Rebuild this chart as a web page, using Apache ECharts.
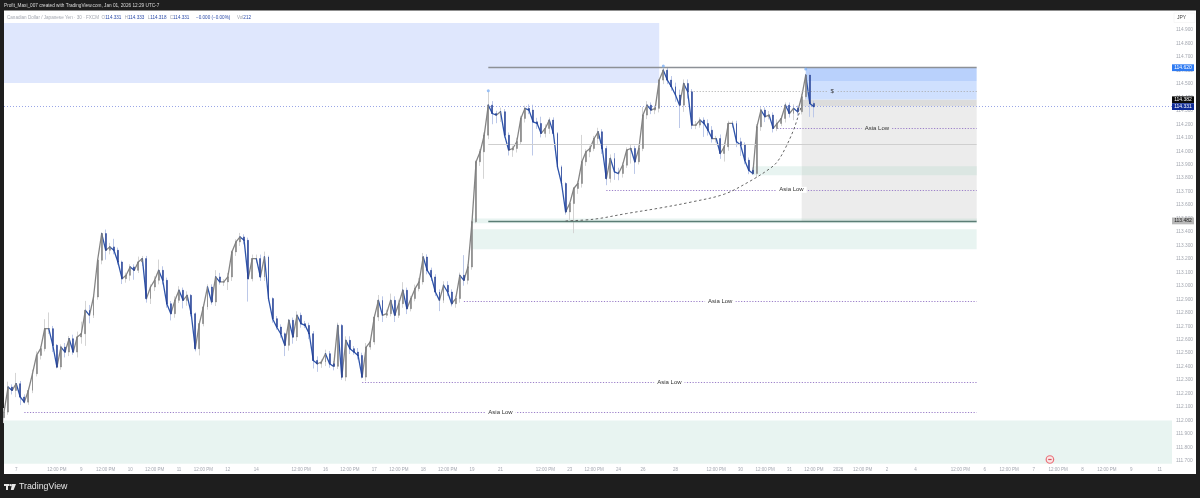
<!DOCTYPE html>
<html>
<head>
<meta charset="utf-8">
<title>CAD/JPY</title>
<style>
html, body { margin:0; padding:0; background:#1e1e1e; }
#chart { width:1200px; height:498px; }
</style>
<script src="https://cdn.jsdelivr.net/npm/echarts@6/dist/echarts.min.js"></script>
</head>
<body>
<div id="chart"></div>
<script>
// 2 hour closes, the last one is the live price
var closes = [
112.062,112.248,112.223,112.273,112.174,112.136,112.223,112.347,112.483,112.533,
112.682,112.682,112.558,112.397,112.545,112.508,112.607,112.508,112.620,112.644,
112.818,112.781,112.917,113.190,113.388,113.264,113.289,113.264,113.177,113.053,
113.078,113.140,113.115,113.177,113.202,112.905,112.991,113.041,113.115,113.041,
112.867,112.793,112.892,112.967,112.892,112.929,112.793,112.533,112.719,112.843,
112.991,112.880,113.066,113.029,113.029,113.066,113.252,113.326,113.363,113.338,
113.053,113.202,113.202,113.066,113.214,112.905,112.756,112.694,112.644,112.558,
112.744,112.620,112.781,112.719,112.706,112.644,112.446,112.421,112.434,112.496,
112.421,112.402,112.706,112.322,112.595,112.533,112.508,112.483,112.322,112.545,
112.583,112.768,112.892,112.781,112.793,112.892,112.781,112.867,112.967,112.830,
112.905,112.979,113.029,113.214,113.115,113.066,112.954,112.892,113.004,112.954,
112.867,112.905,113.078,113.041,113.140,113.475,113.921,113.995,114.119,114.342,
114.280,114.268,114.293,114.119,114.008,114.020,114.070,114.243,114.318,114.305,
114.218,114.206,114.132,114.169,114.231,114.132,113.884,113.760,113.549,113.611,
113.723,113.760,113.921,113.995,114.020,114.094,114.144,114.020,113.797,113.946,
113.847,113.834,113.896,114.008,114.020,113.921,114.020,114.268,114.342,114.305,
114.318,114.528,114.602,114.528,114.479,114.417,114.342,114.503,114.441,114.194,
114.194,114.231,114.206,114.156,114.094,114.094,113.983,114.033,114.206,114.206,
114.070,114.045,113.933,113.859,113.834,114.181,114.305,114.256,114.268,114.169,
114.206,114.243,114.342,114.280,114.318,114.293,114.404,114.565,114.355,114.331
];
var firstOpen = 112.02;
// wick lengths above and below each body
var upperWicks = [
.03,.04,.02,.08,.02,.02,.02,.03,.03,.02, .07,.12,.02,.01,.02,.03,.02,.03,.04,.09,
.07,.04,.02,.01,.01,.03,.03,.06,.02,.01, .02,.02,.02,.04,.02,.02,.02,.03,.08,.03,
.02,.02,.03,.03,.02,.03,.01,.01,.02,.02, .02,.02,.05,.03,.02,.03,.01,.02,.03,.02,
.02,.03,.03,.03,.04,.01,.01,.02,.02,.01, .01,.02,.03,.02,.02,.02,.02,.03,.02,.03,
.02,.02,.02,.01,.03,.03,.02,.03,.02,.03, .02,.02,.04,.03,.03,.05,.03,.03,.06,.02,
.02,.03,.03,.03,.02,.02,.02,.02,.03,.03, .02,.02,.02,.15,.02,.01,.01,.02,.02,.10,
.03,.02,.03,.02,.02,.02,.03,.02,.02,.03, .04,.03,.05,.03,.02,.02,.01,.01,.01,.01,
.01,.02,.20,.02,.02,.02,.03,.02,.02,.03, .04,.03,.02,.02,.03,.02,.02,.06,.03,.02,
.02,.01,.02,.02,.03,.03,.04,.03,.03,.02, .03,.02,.02,.03,.03,.02,.03,.03,.02,.02,
.02,.03,.02,.02,.02,.02,.03,.02,.03,.02, .03,.02,.02,.02,.03,.02,.02,.01,.02,.02
];
var lowerWicks = [
.04,.02,.03,.05,.06,.01,.02,.02,.02,.03, .02,.04,.05,.01,.02,.04,.03,.02,.04,.05,
.09,.06,.02,.02,.03,.07,.03,.03,.02,.04, .03,.04,.07,.02,.03,.03,.04,.03,.03,.03,
.03,.05,.03,.02,.06,.04,.02,.02,.05,.02, .02,.02,.03,.02,.03,.06,.03,.03,.03,.03,
.17,.02,.03,.03,.03,.02,.03,.02,.03,.08, .04,.05,.03,.03,.02,.04,.06,.06,.03,.03,
.03,.03,.02,.02,.03,.04,.02,.03,.01,.03, .02,.02,.03,.05,.02,.02,.05,.02,.03,.04,
.02,.02,.02,.02,.03,.03,.03,.08,.02,.03, .02,.03,.03,.04,.03,.02,.01,.03,.20,.03,
.08,.06,.05,.02,.04,.05,.03,.02,.03,.03, .25,.04,.03,.03,.04,.02,.02,.02,.02,.06,
.22,.04,.03,.03,.04,.02,.04,.04,.05,.03, .06,.05,.03,.02,.10,.09,.02,.02,.03,.03,
.03,.03,.03,.03,.03,.05,.17,.05,.05,.03, .03,.02,.10,.04,.03,.03,.04,.06,.03,.03,
.04,.08,.03,.03,.01,.03,.03,.04,.02,.03, .02,.02,.03,.03,.05,.03,.02,.02,.10,.08
];

var slotCount = 288;
var timeSlots = [3,13,19,25,31,37,43,49,55,62,73,79,85,91,97,103,109,115,122,133,139,145,151,157,165,175,181,187,193,199,205,211,217,224,235,241,247,253,259,265,271,277,284];
var timeLabels = ['7','12:00 PM','9','12:00 PM','10','12:00 PM','11','12:00 PM','12','14','12:00 PM','16','12:00 PM','17','12:00 PM','18','12:00 PM','19','21','12:00 PM','23','12:00 PM','24','26','28','12:00 PM','30','12:00 PM','31','12:00 PM','2026','12:00 PM','2','4','12:00 PM','6','12:00 PM','7','12:00 PM','8','12:00 PM','9','11'];
var priceTicks = [111.7,111.8,111.9,112,112.1,112.2,112.3,112.4,112.5,112.6,112.7,112.8,112.9,113,113.1,113.2,113.3,113.4,113.5,113.6,113.7,113.8,113.9,114,114.1,114.2,114.3,114.4,114.5,114.6,114.7,114.8,114.9];

// [from slot, to slot, top price, bottom price, colour]
var zones = [
[0,161,114.952,114.506,'#dfe7fd'],
[0,287,112.0,111.678,'#e8f4f1'],
[115,239,113.42,113.272,'#e8f4f1'],
[115,239,113.5,113.465,'#e8f4f1'],
[197,239,114.62,114.521,'#b9d1fc'],
[197,239,114.521,114.382,'#cfe0fe'],
[196,239,114.382,114.331,'#dcdcdc'],
[196,239,114.331,113.482,'#ececec'],
[184,196,113.889,113.822,'#e8f4f1'],
[196,239,113.889,113.822,'#dbe6e2'],
[196,239,113.5,113.482,'#dbe6e2']
];
// [from slot, price, label background]
var asiaLows = [
[190,114.169,'#ececec'],
[148,113.713,'#ffffff'],
[113,112.885,'#ffffff'],
[88,112.283,'#ffffff'],
[5,112.060,'#ffffff']
];
var curveSlots = [138,145,153,161,169,177,183,188,190,192,194,195,196];
var curvePrices = [113.482,113.495,113.537,113.577,113.623,113.681,113.772,113.867,113.921,114.023,114.157,114.246,114.342];
var pivotSlots = [119,162,197];
var pivotPrices = [114.449,114.632,114.61];
var tagPrices = [114.620,114.382,114.331,113.482];
var tagFills = ['#2f7bf2','#0b0b0b','#0e2a96','#b8b8b8'];
var tagInks = ['#ffffff','#ffffff','#ffffff','#222222'];

var categories = [];
for (var i=0; i<slotCount; i++) categories.push(String(i));

var wickData = [], bodyData = [], pathData = [];
for (var i=0; i<closes.length; i++) {
	var openVal = i==0 ? firstOpen : closes[i-1];
	var closeVal = closes[i];
	var bodyTop = Math.max(openVal,closeVal), bodyBottom = Math.min(openVal,closeVal);
	wickData.push([openVal, closeVal, bodyBottom-lowerWicks[i], bodyTop+upperWicks[i]]);
	bodyData.push([openVal, closeVal, bodyBottom, bodyTop]);
	if (i>0) pathData.push([i-1, openVal, i, closeVal]);
}

var areaData = [];
for (var i=0; i<zones.length; i++) {
	var zone = zones[i];
	areaData.push([{xAxis:zone[0], yAxis:zone[2], itemStyle:{color:zone[4], opacity:1}}, {xAxis:zone[1], yAxis:zone[3]}]);
}

function hline(from, to, price, style, label) {
	var start = {coord:[from,price], lineStyle:style};
	start.label = label ? label : {show:false};
	return [start, {coord:[to,price]}];
}
var lineData = [
	hline(0,287,114.331,{color:'#9aa6e6',type:[1,2],width:1}),
	hline(119,239,114.627,{color:'#8d9196',type:'solid',width:1.4}),
	hline(119,239,113.482,{color:'#5b7d75',type:'solid',width:1.4}),
	hline(119,239,114.05,{color:'#cfcfcf',type:'solid',width:1}),
	hline(168,239,114.446,{color:'#a8a8a8',type:[1,2],width:1},
		{show:true,position:'insideMiddle',verticalAlign:'middle',distance:0,formatter:'$',color:'#333',fontSize:6,fontFamily:'Liberation Sans',backgroundColor:'#cfe0fe',padding:[0,3]})
];
for (var i=0; i<asiaLows.length; i++) {
	lineData.push(hline(asiaLows[i][0],239,asiaLows[i][1],{color:'#9b7fc9',type:[1.2,1.6],width:1.1},
		{show:true,position:'insideMiddle',verticalAlign:'middle',distance:0,formatter:'Asia Low',color:'#333',fontSize:6,fontFamily:'Liberation Sans',backgroundColor:asiaLows[i][2],padding:[0,3]}));
}

var curveData = [];
for (var i=0; i<curveSlots.length; i++) curveData.push([curveSlots[i],curvePrices[i]]);
var pivotData = [];
for (var i=0; i<pivotSlots.length; i++) pivotData.push([pivotSlots[i],pivotPrices[i]]);

// closes joined up, bars are about 1px wide in the original so it reads as a line
function renderPath(params, api) {
	var a = api.coord([api.value(0), api.value(1)]);
	var b = api.coord([api.value(2), api.value(3)]);
	return {
		type:'line',
		shape:{x1:a[0],y1:a[1],x2:b[0],y2:b[1]},
		style:{stroke:api.value(3)>=api.value(1) ? '#858585' : '#2f55ab', lineWidth:1.3, lineCap:'round'}
	};
}

function renderTag(params, api) {
	var p = api.coord([287, api.value(1)]);
	var n = params.dataIndex;
	return {
		type:'group',
		children:[
			{type:'rect', shape:{x:p[0],y:p[1]-3.4,width:22,height:6.8}, style:{fill:tagFills[n]}},
			{type:'text', style:{x:p[0]+11,y:p[1],text:tagPrices[n].toFixed(3),fill:tagInks[n],font:'5px "Liberation Sans"',align:'center',verticalAlign:'middle'}}
		]
	};
}

var option = {
	animation:false,
	backgroundColor:'#1e1e1e',
	textStyle:{fontFamily:'Liberation Sans'},
	graphic:[
		{type:'rect', z:-1, shape:{x:4,y:10.5,width:1192,height:463.5}, style:{fill:'#ffffff'}},
		{type:'text', left:4, top:3, style:{text:'Profit_Maxi_007 created with TradingView.com, Jan 01, 2026 12:29 UTC-7',fill:'#dddddd',font:'4.7px "Liberation Sans"'}},
		{type:'text', z:10, left:7, top:11.5, style:{
			text:'{g|Canadian Dollar / Japanese Yen · 30 · FXCM  O}{b|114.331} {g|H}{b|114.333} {g|L}{b|114.318} {g|C}{b|114.331}  {b|−0.000 (−0.00%)}  {g|Vol}{b|212}',
			rich:{g:{fill:'#a3a7b0',font:'4.6px "Liberation Sans"'},b:{fill:'#2a4aa8',font:'4.6px "Liberation Sans"'}}
		}},
		{type:'rect', z:10, shape:{x:1174,y:13,width:21,height:9.5}, style:{fill:'#ffffff',stroke:'#eeeeee',lineWidth:0.5}},
		{type:'text', z:11, left:1177, top:15.5, style:{text:'JPY',fill:'#444444',font:'5px "Liberation Sans"'}},
		{type:'rect', shape:{x:4,y:484,width:5.5,height:2}, style:{fill:'#e6e6e6'}},
		{type:'rect', shape:{x:6,y:484,width:2,height:6}, style:{fill:'#e6e6e6'}},
		{type:'circle', shape:{cx:10.8,cy:485.2,r:1.1}, style:{fill:'#e6e6e6'}},
		{type:'polygon', shape:{points:[[12,484],[16,484],[13.6,490],[10.8,490]]}, style:{fill:'#e6e6e6'}},
		{type:'text', left:19, top:482.5, style:{text:'TradingView',fill:'#e6e6e6',font:'8.8px "Liberation Sans"'}}
	],
	grid:{left:4, right:28, top:16.55, bottom:23.7, containLabel:false},
	xAxis:{
		type:'category',
		data:categories,
		boundaryGap:false,
		axisLine:{show:false},
		axisTick:{show:false},
		splitLine:{show:false},
		axisLabel:{
			inside:true,
			margin:2,
			color:'#a3a7b0',
			fontSize:4.5,
			fontFamily:'Liberation Sans',
			hideOverlap:false,
			interval:function(idx) { return timeSlots.indexOf(idx)>=0; },
			formatter:function(val, idx) { return timeLabels[timeSlots.indexOf(idx)]; }
		}
	},
	yAxis:{
		type:'value',
		position:'right',
		min:111.6,
		max:115.0,
		axisLine:{show:false},
		axisTick:{show:false},
		splitLine:{show:false},
		axisLabel:{
			customValues:priceTicks,
			margin:4,
			color:'#a3a7b0',
			fontSize:4.8,
			fontFamily:'Liberation Sans',
			formatter:function(v) { return v.toFixed(3); }
		}
	},
	series:[
		{
			type:'candlestick',
			name:'wicks',
			data:wickData,
			barWidth:1,
			z:3,
			silent:true,
			itemStyle:{color:'#d4d4d4',color0:'#bcc8e8',borderColor:'#d4d4d4',borderColor0:'#bcc8e8',borderWidth:1},
			markArea:{silent:true,data:areaData},
			markLine:{silent:true,symbol:'none',animation:false,data:lineData}
		},
		{
			type:'custom',
			name:'path',
			coordinateSystem:'cartesian2d',
			z:4,
			silent:true,
			renderItem:renderPath,
			encode:{x:[0,2],y:[1,3]},
			data:pathData
		},
		{
			type:'candlestick',
			name:'bodies',
			data:bodyData,
			barWidth:1.4,
			z:5,
			silent:true,
			itemStyle:{color:'#7f7f7f',color0:'#223f94',borderColor:'#7f7f7f',borderColor0:'#223f94',borderWidth:0.5}
		},
		{
			type:'line',
			name:'curve',
			data:curveData,
			smooth:0.35,
			showSymbol:false,
			z:6,
			lineStyle:{color:'#555555',width:0.9,type:[2.5,2.5]}
		},
		{
			type:'scatter',
			name:'pivots',
			data:pivotData,
			symbol:'circle',
			symbolSize:3,
			z:7,
			itemStyle:{color:'#7fb2f5'}
		},
		{
			type:'scatter',
			name:'event',
			data:[[257,111.71]],
			symbolSize:7.5,
			z:7,
			itemStyle:{color:'#fde3e5',borderColor:'#e8505b',borderWidth:1.2}
		},
		{
			type:'scatter',
			name:'eventDot',
			data:[[257,111.71]],
			symbol:'rect',
			symbolSize:[3.4,1.2],
			z:8,
			itemStyle:{color:'#c8323c'}
		},
		{
			type:'custom',
			name:'tags',
			coordinateSystem:'cartesian2d',
			clip:false,
			z:9,
			renderItem:renderTag,
			data:tagPrices.map(function(p) { return [287,p]; })
		}
	]
};

var chart = echarts.init(document.getElementById('chart'));
chart.setOption(option);
</script>
</body>
</html>
